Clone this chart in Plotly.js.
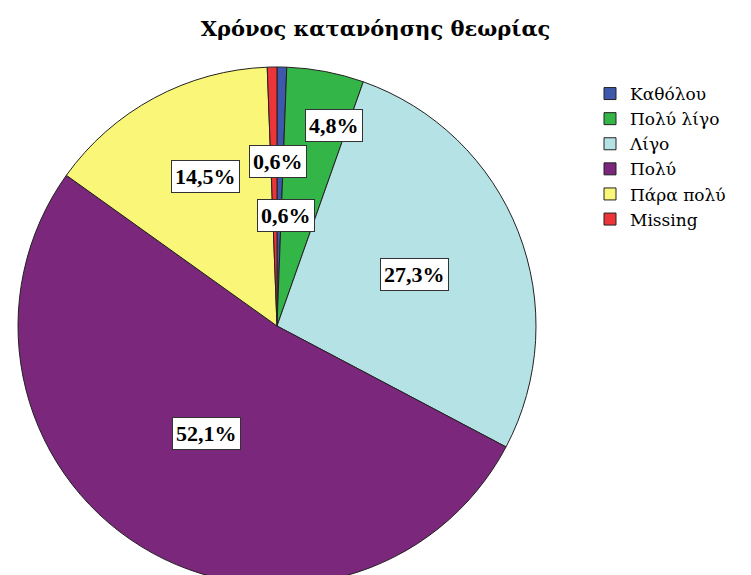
<!DOCTYPE html>
<html>
<head>
<meta charset="utf-8">
<script src="https://cdn.plot.ly/plotly-3.0.1.min.js"></script>
<style>
html,body{margin:0;padding:0;overflow:hidden;background:#fff;}
#chart{width:751px;height:620px;}
</style>
</head>
<body>
<div id="chart"></div>
<script>
// Data
const categories = ["Καθόλου", "Πολύ λίγο", "Λίγο", "Πολύ", "Πάρα πολύ", "Missing"];
const percents = [0.6, 4.8, 27.3, 52.1, 14.5, 0.6];
const sliceColors = ["#3e58ac", "#34b548", "#b5e2e4", "#7b277c", "#faf677", "#ec3439"];
const chartTitle = "Χρόνος κατανόησης θεωρίας";

// Label box centres in pixels (layout only)
const labelPx = [[286, 215], [334, 125], [414, 274], [206, 433], [205, 177], [278, 161]];

const W = 751, H = 620;
const fmt = v => v.toFixed(1).replace(".", ",") + "%";

const cx = 277, cy = 326, r = 259;
const trace = {
  type: "pie",
  labels: categories,
  values: percents,
  sort: false,
  direction: "clockwise",
  rotation: 0,
  textinfo: "none",
  hoverinfo: "label+percent",
  marker: {colors: sliceColors, line: {color: "#222", width: 1}},
  domain: {x: [(cx - r) / W, (cx + r) / W], y: [1 - (cy + r) / H, 1 - (cy - r) / H]}
};

const annotations = categories.map((c, i) => ({
  xref: "paper", yref: "paper",
  x: labelPx[i][0] / W, y: 1 - labelPx[i][1] / H,
  xanchor: "center", yanchor: "middle",
  text: "<b>" + fmt(percents[i]) + "</b>",
  showarrow: false,
  font: {family: "Liberation Serif", size: 22, color: "#000"},
  bgcolor: "#fff", bordercolor: "#333", borderwidth: 1, borderpad: 3
}));

const layout = {
  width: W, height: H,
  margin: {l: 0, r: 0, t: 0, b: 0},
  paper_bgcolor: "#fff",
  title: {
    text: "<b>" + chartTitle + "</b>",
    x: 0.5, xanchor: "center", y: 1 - 29 / H, yanchor: "middle",
    font: {family: "DejaVu Serif", size: 21, color: "#000"}
  },
  showlegend: true,
  legend: {
    x: 590 / W, xanchor: "left", y: 1 - 76 / H, yanchor: "top",
    font: {family: "DejaVu Serif", size: 17, color: "#000"},
    itemwidth: 30, tracegroupgap: 0, bgcolor: "rgba(0,0,0,0)"
  },
  annotations: annotations
};

Plotly.newPlot("chart", [trace], layout, {displayModeBar: false, staticPlot: true});
</script>
</body>
</html>
